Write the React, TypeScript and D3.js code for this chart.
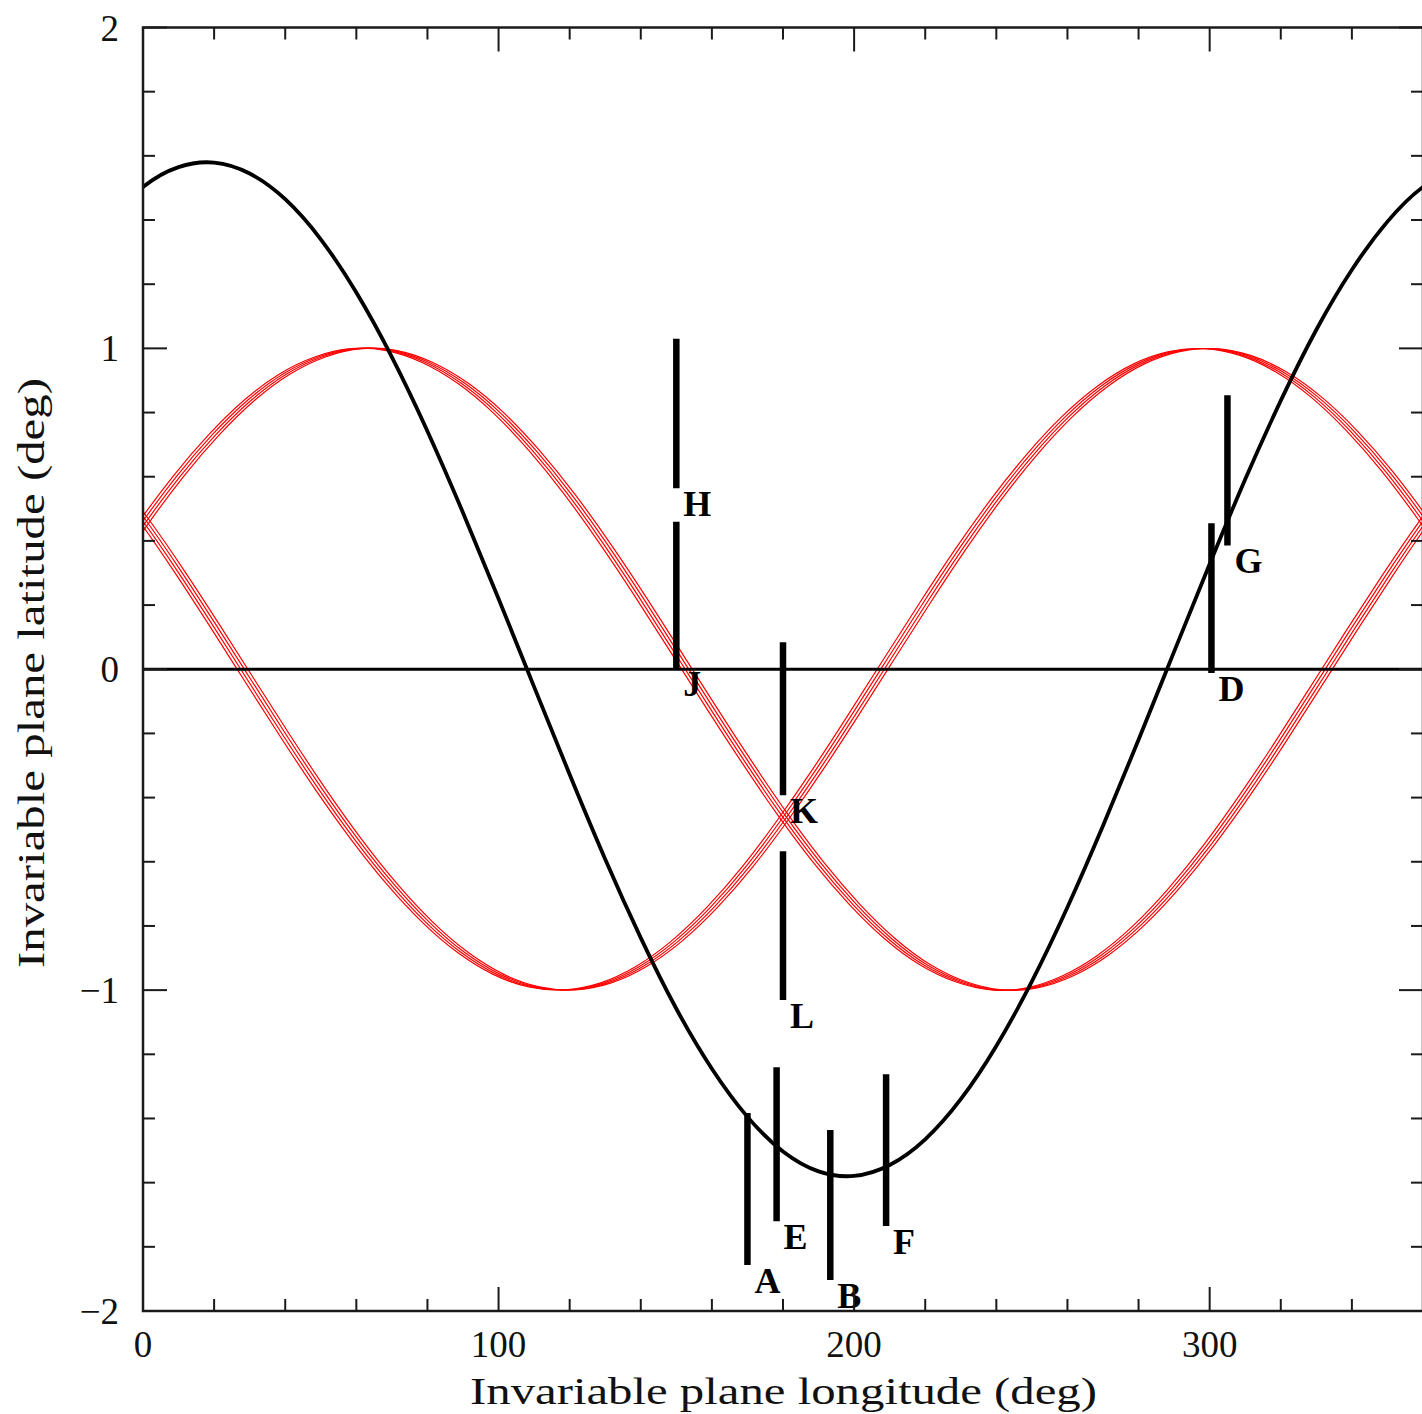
import React from "react";
import * as d3 from "d3";

// ---- data ----
const lonSamples = [-10, 0, 10, 20, 30, 40, 50, 60, 70, 80, 90, 100, 110, 120, 130, 140, 150, 160, 170, 180,
  190, 200, 210, 220, 230, 240, 250, 260, 270, 280, 290, 300, 310, 320, 330, 340, 350, 360, 370];

const blackLat = [1.395, 1.503, 1.565, 1.579, 1.545, 1.465, 1.34, 1.174, 0.973, 0.742, 0.488, 0.22, -0.055, -0.328,
  -0.592, -0.837, -1.058, -1.245, -1.395, -1.503, -1.565, -1.579, -1.545, -1.465, -1.34, -1.174, -0.973, -0.742,
  -0.488, -0.22, 0.055, 0.328, 0.592, 0.837, 1.058, 1.245, 1.395, 1.503, 1.565];

const redLatA = [0.292, 0.454, 0.602, 0.731, 0.839, 0.921, 0.974, 0.999, 0.993, 0.956, 0.891, 0.799, 0.682, 0.545,
  0.391, 0.225, 0.052, -0.122, -0.292, -0.454, -0.602, -0.731, -0.839, -0.921, -0.974, -0.999, -0.993, -0.956,
  -0.891, -0.799, -0.682, -0.545, -0.391, -0.225, -0.052, 0.122, 0.292, 0.454, 0.602];

const redLatB = [0.616, 0.469, 0.309, 0.139, -0.035, -0.208, -0.375, -0.53, -0.669, -0.788, -0.883, -0.951, -0.99,
  -0.999, -0.978, -0.927, -0.848, -0.743, -0.616, -0.469, -0.309, -0.139, 0.035, 0.208, 0.375, 0.53, 0.669, 0.788,
  0.883, 0.951, 0.99, 0.999, 0.978, 0.927, 0.848, 0.743, 0.616, 0.469, 0.309];

// the red bands are drawn as four strands, slightly offset in longitude
const bandOffsets = [-1.5, -0.5, 0.5, 1.5];

const barLabels = ["H", "J", "K", "L", "G", "D", "A", "E", "B", "F"];
const barLon = [150, 150, 180, 180, 305, 300.5, 170, 178.2, 193.3, 209];
const barTop = [1.03, 0.46, 0.084, -0.567, 0.854, 0.455, -1.383, -1.24, -1.436, -1.262];
const barBottom = [0.564, 0.003, -0.393, -1.031, 0.386, -0.012, -1.857, -1.72, -1.903, -1.735];

const xMajorTicks = [0, 100, 200, 300];
const xMinorTicks = d3.range(0, 361, 20);
const yMajorTicks = [-2, -1, 0, 1, 2];
const yMinorTicks = d3.range(-2, 2.001, 0.2).map((v) => Math.round(v * 10) / 10);

const xTitle = "Invariable plane longitude (deg)";
const yTitle = "Invariable plane latitude (deg)";

// ---- layout ----
const W = 1422;
const H = 1414;
const X0 = 143;
const X1 = 1423;
const Y0 = 27.5;
const Y1 = 1311;

export default function App() {
  const x = d3.scaleLinear().domain([0, 360]).range([X0, X1]);
  const y = d3.scaleLinear().domain([-2, 2]).range([Y1, Y0]);

  const line = d3
    .line<[number, number]>()
    .x((d) => x(d[0]))
    .y((d) => y(d[1]))
    .curve(d3.curveNatural);

  const blackPts: [number, number][] = lonSamples.map((l, i) => [l, blackLat[i]]);
  const redPaths: string[] = [];
  [redLatA, redLatB].forEach((arr) => {
    bandOffsets.forEach((off) => {
      const pts: [number, number][] = lonSamples.map((l, i) => [l + off, arr[i]]);
      redPaths.push(line(pts) as string);
    });
  });

  const axisColor = "#1a1a1a";
  const font = "'Liberation Serif', 'Times New Roman', serif";
  const minorLen = 12;
  const majorLen = 24;

  return (
    <svg
      width={W}
      height={H}
      style={{ position: "absolute", left: 0, top: 0, background: "#fff" }}
      xmlns="http://www.w3.org/2000/svg"
    >
      <defs>
        <clipPath id="plotClip">
          <rect x={X0} y={Y0} width={X1 - X0} height={Y1 - Y0} />
        </clipPath>
      </defs>
      <rect x={0} y={0} width={W} height={H} fill="#fff" />

      <g clipPath="url(#plotClip)">
        {redPaths.map((p, i) => (
          <path key={"r" + i} d={p} fill="none" stroke="#ff0000" strokeWidth={1.2} />
        ))}
        <line x1={x(0)} x2={x(360)} y1={y(0)} y2={y(0)} stroke="#000" strokeWidth={3} />
        <path d={line(blackPts) as string} fill="none" stroke="#000" strokeWidth={3.8} />
        {barLabels.map((lab, i) => (
          <line
            key={"b" + lab}
            x1={x(barLon[i])}
            x2={x(barLon[i])}
            y1={y(barTop[i])}
            y2={y(barBottom[i])}
            stroke="#000"
            strokeWidth={6.5}
          />
        ))}
      </g>

      {barLabels.map((lab, i) => (
        <text
          key={"l" + lab}
          x={x(barLon[i]) + 7}
          y={y(barBottom[i]) + 28}
          fontFamily={font}
          fontWeight="bold"
          fontSize={36}
          fill="#000"
        >
          {lab}
        </text>
      ))}

      {/* frame */}
      <rect x={X0} y={Y0} width={X1 - X0} height={Y1 - Y0} fill="none" stroke={axisColor} strokeWidth={2.5} />

      {/* x ticks bottom & top */}
      {xMinorTicks.map((t) => {
        const len = xMajorTicks.includes(t) ? majorLen : minorLen;
        return (
          <g key={"xt" + t}>
            <line x1={x(t)} x2={x(t)} y1={Y1} y2={Y1 - len} stroke={axisColor} strokeWidth={2} />
            <line x1={x(t)} x2={x(t)} y1={Y0} y2={Y0 + len} stroke={axisColor} strokeWidth={2} />
          </g>
        );
      })}
      {/* y ticks left & right */}
      {yMinorTicks.map((t) => {
        const len = yMajorTicks.includes(t) ? majorLen : minorLen;
        return (
          <g key={"yt" + t}>
            <line x1={X0} x2={X0 + len} y1={y(t)} y2={y(t)} stroke={axisColor} strokeWidth={2} />
            <line x1={X1} x2={X1 - len} y1={y(t)} y2={y(t)} stroke={axisColor} strokeWidth={2} />
          </g>
        );
      })}

      {/* tick labels */}
      {xMajorTicks.map((t) => (
        <text
          key={"xl" + t}
          x={x(t)}
          y={1357}
          textAnchor="middle"
          fontFamily={font}
          fontSize={37}
          fill="#111"
        >
          {String(t)}
        </text>
      ))}
      {yMajorTicks.map((t) => (
        <text
          key={"yl" + t}
          x={119}
          y={y(t) + 13}
          textAnchor="end"
          fontFamily={font}
          fontSize={37}
          fill="#111"
        >
          {t < 0 ? "\u2212" + Math.abs(t) : String(t)}
        </text>
      ))}

      {/* axis titles */}
      <text
        x={783.5}
        y={1404}
        textAnchor="middle"
        fontFamily={font}
        fontSize={37}
        fill="#111"
        textLength={627}
        lengthAdjust="spacingAndGlyphs"
      >
        {xTitle}
      </text>
      <text
        transform={`translate(44, 673) rotate(-90)`}
        x={0}
        y={0}
        textAnchor="middle"
        fontFamily={font}
        fontSize={37}
        fill="#111"
        textLength={590}
        lengthAdjust="spacingAndGlyphs"
      >
        {yTitle}
      </text>
    </svg>
  );
}
